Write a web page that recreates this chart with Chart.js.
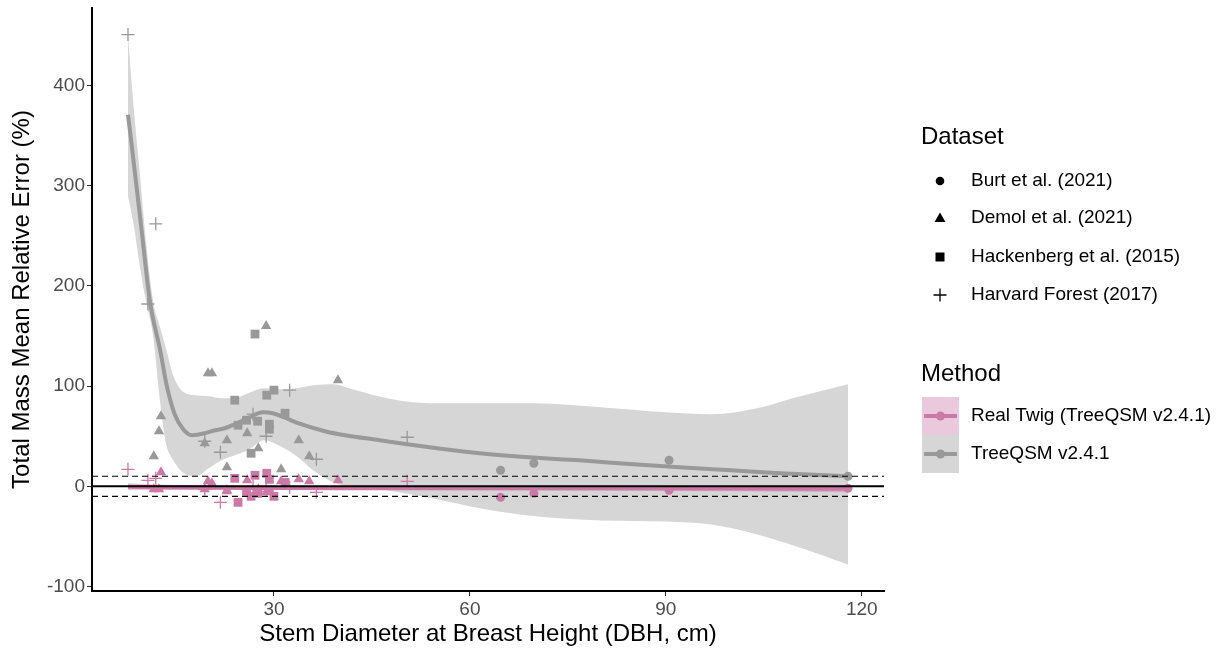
<!DOCTYPE html>
<html>
<head>
<meta charset="utf-8">
<title>Total mass relative error vs DBH</title>
<script src="https://cdn.jsdelivr.net/npm/chart.js@4.4.1/dist/chart.umd.min.js"></script>
<style>
  html, body { margin: 0; padding: 0; background: #fff; }
  #wrap { width: 1227px; height: 649px; }
</style>
</head>
<body>
<div id="wrap"><canvas id="errChart" width="1227" height="649"></canvas></div>
<script>
// axis limits and ticks (ggplot default 5% expansion)
const xLimits = [2.14, 123.41];
const yLimits = [-104.5, 477.5];
const xTicks = [30, 60, 90, 120];
const yTicks = [-100, 0, 100, 200, 300, 400];
const refLines = [0, 10, -10];

// Burt et al. (2021)
const burtDbh = [64.7, 69.8, 90.5, 117.9];
const burtTqsm = [16, 23, 26, 10];
const burtTwig = [-11, -7, -4, -2];

// Demol et al. (2021)
const demolDbh = [11.6, 12.4, 12.7, 19.4, 19.9, 20.5, 22.8, 22.8, 25.9, 27.6, 28.8, 31.1, 33.8, 35.4, 39.8];
const demolTqsm = [30, 55, 70, 43, 113, 113, 46, 19, 53, 38, 160, 17, 46, 30, 106];
const demolTwig = [-3, -3, 14, -3, 5, 3, -5, -4, 6, -3, -6, 5, 7, 5, 6];

// Hackenberg et al. (2015)
const hackDbh = [24.0, 24.5, 25.8, 26.5, 27.1, 27.5, 28.9, 29.3, 29.3, 30.0, 31.7];
const hackTqsm = [86, 61, 66, 33, 152, 65, 91, 62, 57, 96, 73];
const hackTwig = [8, -16, -5, -10, 11, -7, 13, 7, -4, -10, 4];

// Harvard Forest (2017)
const harvDbh = [7.65, 10.7, 11.9, 19.4, 21.8, 26.8, 28.8, 32.4, 36.5, 50.4];
const harvTqsm = [451, 182, 262, 45, 34, 72, 50, 96, 27, 49];
const harvTwig = [17, 6, 8, -3, -16, 0, -3, -1, -6, 5];

// loess fit, TreeQSM v2.4.1
const tqsmFitX = [7.65, 8.3, 9.0, 9.8, 11.0, 12.6, 13.6, 14.8, 16.1, 17.5, 19.4, 21, 22.5, 24, 26, 28.3, 29.8, 31.5, 33.7, 37.8, 40.9, 46.2, 50.4, 55, 61.5, 69, 76.8, 85, 92.1, 100, 107.5, 117.9];
const tqsmFitY = [371, 336, 297, 252, 185, 135, 100, 72, 57, 51, 53, 56, 58, 62, 68, 74, 73, 69, 63, 55, 51, 46, 42, 38, 33, 29, 26, 22, 19, 16, 13, 10];
const tqsmBandX = [7.65, 8.5, 9.5, 10.4, 11.5, 12.5, 13.5, 14.5, 16, 18, 20, 22, 24, 26, 28.5, 31, 33.5, 36, 39, 42, 46, 50, 55, 61.5, 70, 80, 90, 97, 104, 110, 117.9];
const tqsmBandHi = [450, 380, 310, 245, 185, 160, 137, 112, 95, 91, 90, 88, 88, 93, 98, 97, 98, 101, 102, 97, 90, 85, 83, 83, 83, 79, 74, 72, 78, 89, 102];
const tqsmBandLo = [290, 262, 218, 185, 150, 88, 42, 27, 14, 10, 18, 26, 31, 36, 46, 40, 30, 16, 4, -1, -3, -7, -13, -22, -30, -34, -35, -38, -48, -60, -78];

// loess fit, Real Twig (TreeQSM v2.4.1)
const twigFitX = [7.65, 20, 40, 60, 80, 100, 117.9];
const twigFitY = [-0.5, -1.5, -2, -2, -2, -2.2, -2.5];
const twigBandHi = [3, 0.5, 0, 0, 0, 0.5, 1];
const twigBandLo = [-4, -3.5, -3.5, -4, -4.5, -5, -6];

const grayCol = "#999999";
const pinkCol = "#CC79A7";
const grayFill = "rgba(153,153,153,0.4)";
const pinkFill = "rgba(204,121,167,0.4)";
const FONT = "'Liberation Sans', Arial, Helvetica, sans-serif";

function pts(xs, ys) {
    return xs.map((x, i) => ({ x: x, y: ys[i] }));
}

function pointSet(label, xs, ys, style, color, radius) {
    return {
        type: "scatter",
        label: label,
        data: pts(xs, ys),
        pointStyle: style,
        pointRadius: radius,
        pointBackgroundColor: color,
        pointBorderColor: color,
        pointBorderWidth: style === "cross" ? 1.3 : 0,
        order: 1
    };
}

function lineSet(label, xs, ys, color, width, extra) {
    return Object.assign({
        type: "line",
        label: label,
        data: pts(xs, ys),
        borderColor: color,
        borderWidth: width,
        pointRadius: 0,
        fill: false,
        cubicInterpolationMode: "monotone",
        order: 2
    }, extra || {});
}

const datasets = [
    // bands (upper fills to the next dataset)
    lineSet("tqsmHi", tqsmBandX, tqsmBandHi, "transparent", 0, { fill: "+1", backgroundColor: grayFill, order: 4 }),
    lineSet("tqsmLo", tqsmBandX, tqsmBandLo, "transparent", 0, { order: 4 }),
    lineSet("twigHi", twigFitX, twigBandHi, "transparent", 0, { fill: "+1", backgroundColor: pinkFill, order: 3 }),
    lineSet("twigLo", twigFitX, twigBandLo, "transparent", 0, { order: 3 }),
    // fitted lines
    lineSet("TreeQSM v2.4.1", tqsmFitX, tqsmFitY, grayCol, 4),
    lineSet("Real Twig (TreeQSM v2.4.1)", twigFitX, twigFitY, pinkCol, 4),
    // points
    pointSet("Burt tqsm", burtDbh, burtTqsm, "circle", grayCol, 4.5),
    pointSet("Demol tqsm", demolDbh, demolTqsm, "triangle", grayCol, 6),
    pointSet("Hack tqsm", hackDbh, hackTqsm, "rect", grayCol, 6.2),
    pointSet("Harvard tqsm", harvDbh, harvTqsm, "cross", grayCol, 6.5),
    pointSet("Burt twig", burtDbh, burtTwig, "circle", pinkCol, 4.5),
    pointSet("Demol twig", demolDbh, demolTwig, "triangle", pinkCol, 6),
    pointSet("Hack twig", hackDbh, hackTwig, "rect", pinkCol, 6.2),
    pointSet("Harvard twig", harvDbh, harvTwig, "cross", pinkCol, 6.5)
];

// reference lines at 0 and +/-10 %
refLines.forEach(v => {
    datasets.push({
        type: "line",
        label: "ref" + v,
        data: pts(xLimits, [v, v]),
        borderColor: "#000",
        borderWidth: v === 0 ? 2 : 1.1,
        borderDash: v === 0 ? [] : [6, 4],
        pointRadius: 0,
        fill: false,
        order: 0
    });
});

// titles + legend drawn in ggplot style
const ggDecor = {
    id: "ggDecor",
    afterDraw(chart) {
        const ctx = chart.ctx;
        const area = chart.chartArea;
        ctx.save();
        ctx.fillStyle = "#000";
        ctx.textBaseline = "middle";

        // axis titles
        ctx.font = "24px " + FONT;
        ctx.textAlign = "center";
        ctx.fillText("Stem Diameter at Breast Height (DBH, cm)", (area.left + area.right) / 2, 634);
        ctx.save();
        ctx.translate(22, (area.top + area.bottom) / 2);
        ctx.rotate(-Math.PI / 2);
        ctx.fillText("Total Mass Mean Relative Error (%)", 0, 0);
        ctx.restore();

        // Dataset legend
        ctx.textAlign = "left";
        ctx.font = "24px " + FONT;
        ctx.fillText("Dataset", 921, 137);
        const rows = [
            ["Burt et al. (2021)", "circle", 181],
            ["Demol et al. (2021)", "triangle", 218],
            ["Hackenberg et al. (2015)", "square", 257],
            ["Harvard Forest (2017)", "plus", 295]
        ];
        const sx = 940;
        rows.forEach(r => {
            const y = r[2];
            ctx.fillStyle = "#000";
            ctx.strokeStyle = "#000";
            ctx.beginPath();
            if (r[1] === "circle") {
                ctx.arc(sx, y, 4.3, 0, Math.PI * 2);
                ctx.fill();
            } else if (r[1] === "triangle") {
                ctx.moveTo(sx, y - 5.5);
                ctx.lineTo(sx + 5.5, y + 4);
                ctx.lineTo(sx - 5.5, y + 4);
                ctx.closePath();
                ctx.fill();
            } else if (r[1] === "square") {
                ctx.fillRect(sx - 4.5, y - 4.5, 9, 9);
            } else {
                ctx.lineWidth = 1.3;
                ctx.moveTo(sx - 6.5, y);
                ctx.lineTo(sx + 6.5, y);
                ctx.moveTo(sx, y - 6.5);
                ctx.lineTo(sx, y + 6.5);
                ctx.stroke();
            }
            ctx.font = "19px " + FONT;
            ctx.fillText(r[0], 971, y);
        });

        // Method legend
        ctx.font = "24px " + FONT;
        ctx.fillStyle = "#000";
        ctx.fillText("Method", 921, 374);
        const keys = [
            ["Real Twig (TreeQSM v2.4.1)", pinkCol, pinkFill, 397],
            ["TreeQSM v2.4.1", grayCol, grayFill, 435]
        ];
        keys.forEach(k => {
            const top = k[3];
            const mid = top + 19;
            ctx.fillStyle = k[2];
            ctx.fillRect(922, top, 37, 38);
            ctx.strokeStyle = k[1];
            ctx.lineWidth = 4;
            ctx.beginPath();
            ctx.moveTo(924, mid);
            ctx.lineTo(957, mid);
            ctx.stroke();
            ctx.fillStyle = k[1];
            ctx.beginPath();
            ctx.arc(940.5, mid, 4.5, 0, Math.PI * 2);
            ctx.fill();
            ctx.fillStyle = "#000";
            ctx.font = "19px " + FONT;
            ctx.fillText(k[0], 971, mid);
        });
        ctx.restore();
    }
};

const axisCommon = {
    type: "linear",
    grid: { drawOnChartArea: false, drawTicks: true, tickLength: 5, tickWidth: 1.1, color: "#333333" },
    border: { display: true, color: "#000", width: 2 },
    ticks: { color: "#4D4D4D", font: { family: FONT, size: 19 }, padding: 2 }
};

new Chart(document.getElementById("errChart").getContext("2d"), {
    type: "line",
    data: { datasets: datasets },
    options: {
        responsive: false,
        animation: false,
        devicePixelRatio: 1,
        layout: { padding: { left: 0, right: 343, top: 8, bottom: 0 } },
        plugins: { legend: { display: false }, tooltip: { enabled: false } },
        scales: {
            x: Object.assign({}, axisCommon, {
                position: "bottom",
                min: xLimits[0],
                max: xLimits[1],
                afterBuildTicks: s => { s.ticks = xTicks.map(v => ({ value: v })); },
                afterFit: s => { s.height = 58; s.paddingLeft = 0; s.paddingRight = 0; }
            }),
            y: Object.assign({}, axisCommon, {
                position: "left",
                min: yLimits[0],
                max: yLimits[1],
                afterBuildTicks: s => { s.ticks = yTicks.map(v => ({ value: v })); },
                afterFit: s => { s.width = 92; s.paddingTop = 0; s.paddingBottom = 0; }
            })
        }
    },
    plugins: [ggDecor]
});
</script>
</body>
</html>
